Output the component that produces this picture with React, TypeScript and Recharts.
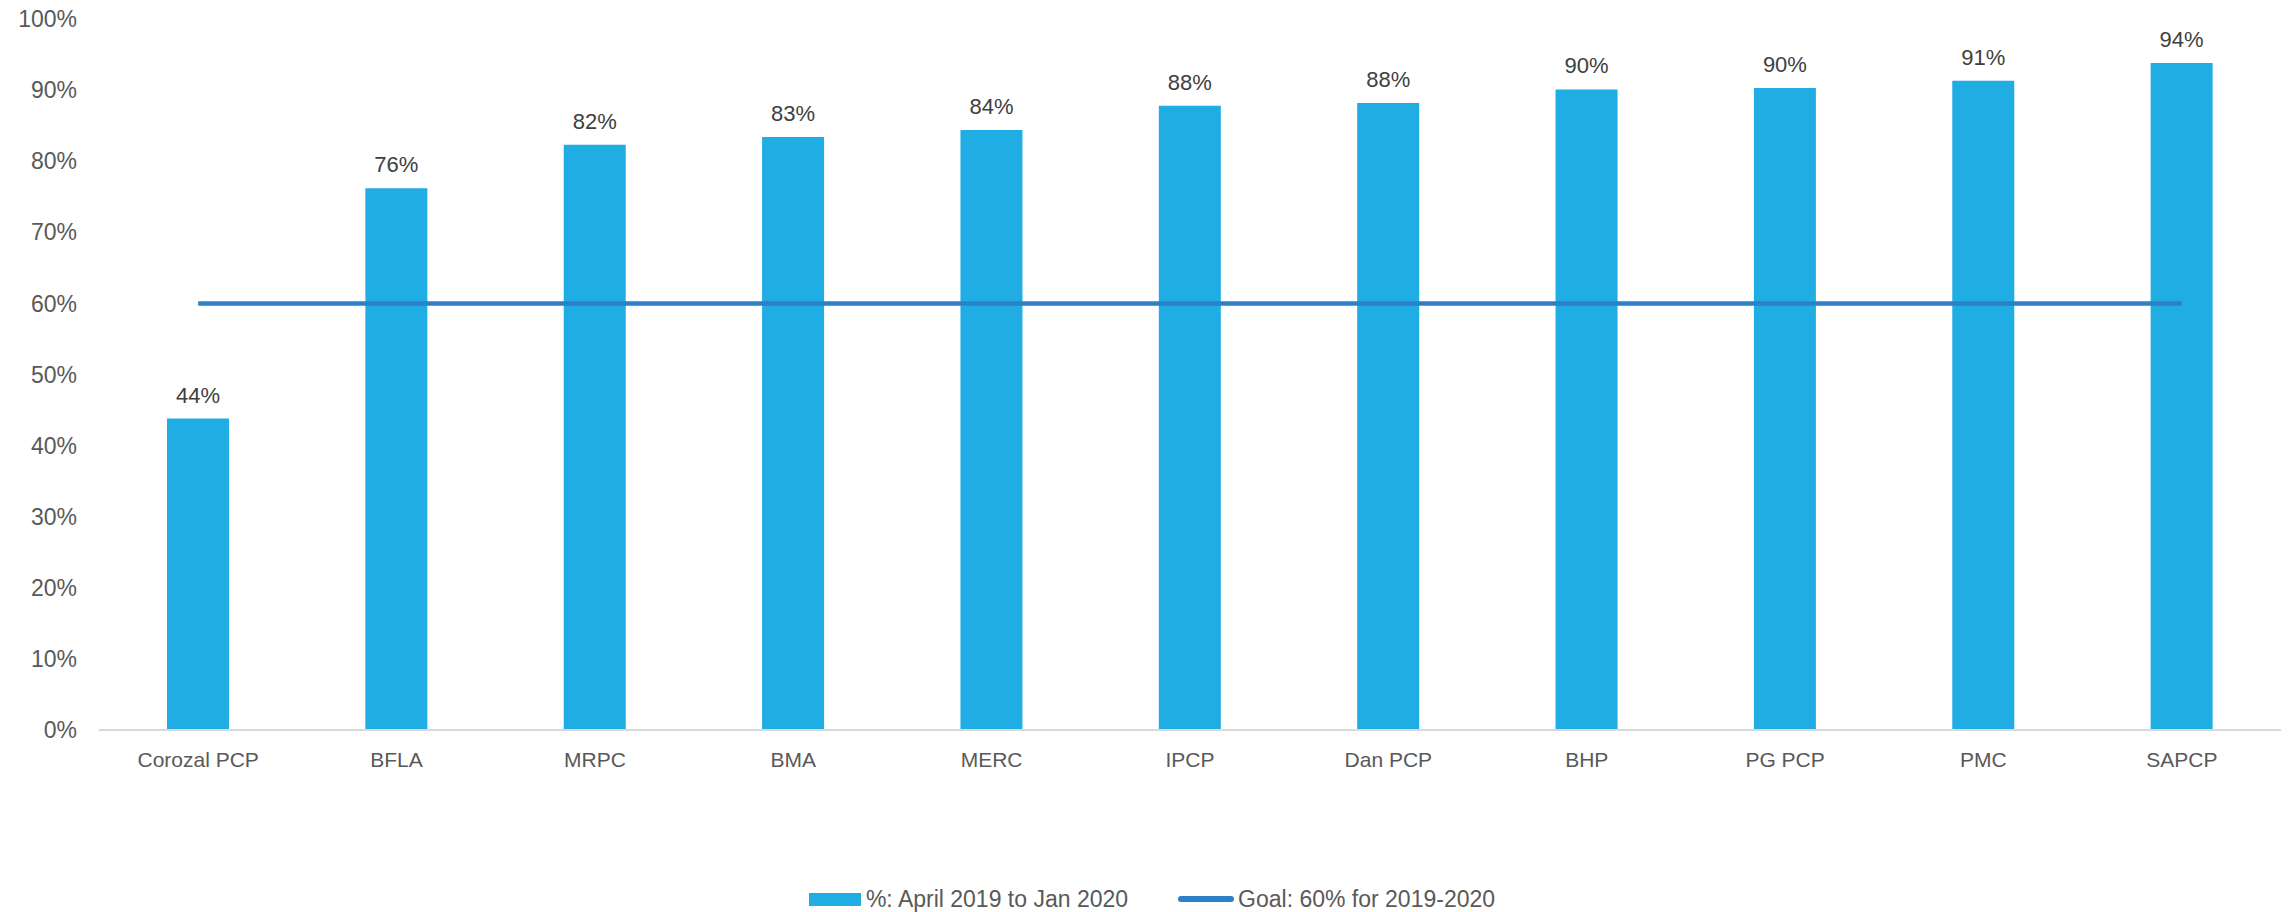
import React from "react"
import {
  Bar,
  ComposedChart,
  LabelList,
  Legend,
  Line,
  XAxis,
  YAxis,
} from "recharts"

const categories = [
  "Corozal PCP",
  "BFLA",
  "MRPC",
  "BMA",
  "MERC",
  "IPCP",
  "Dan PCP",
  "BHP",
  "PG PCP",
  "PMC",
  "SAPCP",
]
const actual = [0.438, 0.762, 0.823, 0.834, 0.844, 0.878, 0.882, 0.901, 0.903, 0.913, 0.938]
const goal = [0.6, 0.6, 0.6, 0.6, 0.6, 0.6, 0.6, 0.6, 0.6, 0.6, 0.6]
const yTicks = [0, 0.1, 0.2, 0.3, 0.4, 0.5, 0.6, 0.7, 0.8, 0.9, 1]

const barName = "%: April 2019 to Jan 2020"
const lineName = "Goal: 60% for 2019-2020"

const data = categories.map((name, i) => ({ name, actual: actual[i], goal: goal[i] }))

const pct = (v: number) => `${Math.round(v * 100)}%`

const font = "'Liberation Sans', Arial, sans-serif"

function LegendContent({ payload }: any) {
  return (
    <div style={{ display: "flex", justifyContent: "center", alignItems: "center", fontFamily: font, fontSize: 23, lineHeight: "26px", color: "#595959", paddingLeft: 14 }}>
      {(payload || []).map((p: any, i: number) => (
        <div key={p.value} style={{ display: "flex", alignItems: "center", marginLeft: i ? 50 : 0 }}>
          {p.type === "rect" ? (
            <span style={{ display: "inline-block", width: 52, height: 13, background: p.color, marginRight: 5 }} />
          ) : (
            <span style={{ display: "inline-block", width: 56, height: 6, borderRadius: 3, background: p.color, marginRight: 4 }} />
          )}
          <span>{p.value}</span>
        </div>
      ))}
    </div>
  )
}

export default function App() {
  return (
    <div style={{ position: "absolute", left: 0, top: 0, background: "#fff" }}>
      <ComposedChart
        width={2290}
        height={912}
        data={data}
        margin={{ top: 19, right: 9, left: 0, bottom: 0 }}
      >
        <XAxis
          dataKey="name"
          height={182}
          tickLine={false}
          tickSize={0}
          tickMargin={22}
          axisLine={{ stroke: "#d9d9d9", strokeWidth: 2 }}
          tick={{ fill: "#595959", fontSize: 21, fontFamily: font }}
          interval={0}
        />
        <YAxis
          width={99}
          domain={[0, 1]}
          ticks={yTicks}
          tickFormatter={pct}
          axisLine={false}
          tickLine={false}
          tickSize={0}
          tickMargin={22}
          tick={{ fill: "#595959", fontSize: 23, fontFamily: font }}
        />
        <Legend
          verticalAlign="middle"
          align="center"
          wrapperStyle={{ top: 886, left: 0, width: 2290 }}
          content={<LegendContent />}
        />
        <Bar
          dataKey="actual"
          name={barName}
          fill="#1fade3"
          barSize={62}
          legendType="rect"
          isAnimationActive={false}
        >
          <LabelList
            dataKey="actual"
            position="top"
            offset={16}
            formatter={(v: any) => pct(Number(v))}
            style={{ fill: "#404040", fontSize: 22, fontFamily: font }}
          />
        </Bar>
        <Line
          dataKey="goal"
          name={lineName}
          stroke="#2b80c6"
          strokeWidth={4.5}
          dot={false}
          activeDot={false}
          legendType="line"
          isAnimationActive={false}
        />
      </ComposedChart>
    </div>
  )
}
